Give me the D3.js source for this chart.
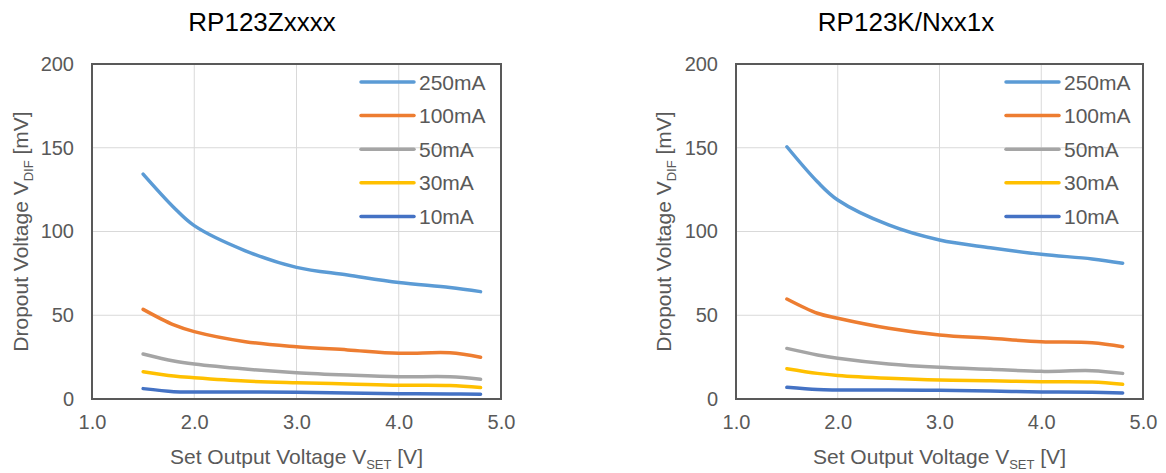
<!DOCTYPE html>
<html>
<head>
<meta charset="utf-8">
<script src="https://cdn.jsdelivr.net/npm/d3@7"></script>
<style>
  html, body { margin: 0; padding: 0; background: #fff; }
  svg { display: block; font-family: "Liberation Sans", Arial, sans-serif; }
</style>
</head>
<body>
<svg id="chart" width="1166" height="473"></svg>
<script>
// ── Data ──
const vset = [1.5, 1.8, 2.0, 2.5, 3.0, 3.5, 4.0, 4.5, 4.8];
const loads = ['250mA', '100mA', '50mA', '30mA', '10mA'];
const loadColors = ['#5b9bd5', '#ed7d31', '#a5a5a5', '#ffc000', '#4472c4'];
const xTicks = [1.0, 2.0, 3.0, 4.0, 5.0];
const yTicks = [0, 50, 100, 150, 200];

// RP123Zxxxx
const z250 = [134.3, 114.4, 103.5, 88.5, 78.6, 74.0, 69.5, 66.6, 64.1];
const z100 = [53.5, 44.2, 40.2, 34.2, 31.2, 29.3, 27.3, 27.6, 24.9];
const z50  = [26.9, 22.7, 20.9, 17.9, 15.7, 14.3, 13.3, 13.3, 11.8];
const z30  = [16.3, 13.7, 12.7, 10.7, 9.7, 9.0, 8.2, 8.0, 6.8];
const z10  = [6.2, 4.4, 4.2, 4.2, 4.0, 3.6, 3.2, 3.0, 2.8];

// RP123K/Nxx1x
const k250 = [150.6, 129.7, 118.8, 103.9, 94.9, 90.3, 86.4, 83.6, 81.0];
const k100 = [59.7, 51.2, 48.2, 42.2, 38.2, 36.2, 34.2, 33.6, 31.2];
const k50  = [30.2, 26.3, 24.3, 20.9, 18.9, 17.7, 16.5, 16.9, 15.3];
const k30  = [18.1, 15.3, 14.1, 12.4, 11.3, 10.9, 10.3, 10.1, 8.8];
const k10  = [7.0, 5.6, 5.4, 5.4, 5.2, 4.8, 4.2, 4.0, 3.6];

const svg = d3.select('#chart');
const textGrey = '#595959';

function drawChart(title, seriesList, box) {
  const x = d3.scaleLinear().domain([1, 5]).range([box.left, box.right]);
  const y = d3.scaleLinear().domain([0, 200]).range([box.bottom, box.top]);
  const g = svg.append('g');

  // Title
  g.append('text')
    .attr('x', box.titleX).attr('y', 31)
    .attr('text-anchor', 'middle')
    .attr('font-size', '26px').attr('fill', '#000')
    .text(title);

  // Gridlines
  g.append('g').selectAll('line').data(xTicks.slice(1, -1)).join('line')
    .attr('x1', d => x(d)).attr('x2', d => x(d))
    .attr('y1', box.top).attr('y2', box.bottom)
    .attr('stroke', '#d9d9d9').attr('stroke-width', 1);
  g.append('g').selectAll('line').data(yTicks.slice(1, -1)).join('line')
    .attr('x1', box.left).attr('x2', box.right)
    .attr('y1', d => y(d)).attr('y2', d => y(d))
    .attr('stroke', '#d9d9d9').attr('stroke-width', 1);

  // Axes (labels only, box drawn separately)
  const xAxis = g.append('g')
    .attr('transform', 'translate(0,' + box.bottom + ')')
    .call(d3.axisBottom(x).tickValues(xTicks).tickFormat(d3.format('.1f')).tickSize(0).tickPadding(16));
  const yAxis = g.append('g')
    .attr('transform', 'translate(' + box.left + ',0)')
    .call(d3.axisLeft(y).tickValues(yTicks).tickSize(0).tickPadding(18));
  [xAxis, yAxis].forEach(a => {
    a.select('.domain').remove();
    a.selectAll('text')
      .attr('fill', textGrey).attr('font-size', '20px')
      .attr('font-family', '"Liberation Sans", Arial, sans-serif');
  });

  // Curves
  const line = d3.line()
    .x((d, i) => x(vset[i]))
    .y(d => y(d))
    .curve(d3.curveCatmullRom.alpha(0.5));

  g.append('g').selectAll('path').data(seriesList).join('path')
    .attr('d', d => line(d))
    .attr('fill', 'none')
    .attr('stroke', (d, i) => loadColors[i])
    .attr('stroke-width', 3.5)
    .attr('stroke-linecap', 'round');

  // Plot border
  g.append('rect')
    .attr('x', box.left).attr('y', box.top)
    .attr('width', box.right - box.left).attr('height', box.bottom - box.top)
    .attr('fill', 'none').attr('stroke', '#595959').attr('stroke-width', 2);

  // Legend
  const leg = g.append('g').selectAll('g').data(loads).join('g')
    .attr('transform', (d, i) => 'translate(' + box.legendX + ',' + (82 + i * 33.6) + ')');
  leg.append('line')
    .attr('x1', 0).attr('x2', 53).attr('y1', 0).attr('y2', 0)
    .attr('stroke', (d, i) => loadColors[i]).attr('stroke-width', 3.5)
    .attr('stroke-linecap', 'round');
  leg.append('text')
    .attr('x', 58).attr('y', 0).attr('dy', '0.36em')
    .attr('font-size', '21px').attr('fill', textGrey)
    .text(d => d);

  // X axis title
  const xt = g.append('text')
    .attr('x', (box.left + box.right) / 2).attr('y', 464)
    .attr('text-anchor', 'middle')
    .attr('font-size', '21px').attr('fill', textGrey);
  xt.append('tspan').text('Set Output Voltage V');
  xt.append('tspan').attr('font-size', '13px').attr('dy', 5).text('SET');
  xt.append('tspan').attr('dy', -5).text(' [V]');

  // Y axis title
  const yt = g.append('text')
    .attr('transform', 'translate(' + box.yTitleX + ',' + ((box.top + box.bottom) / 2) + ') rotate(-90)')
    .attr('text-anchor', 'middle')
    .attr('font-size', '21px').attr('fill', textGrey);
  yt.append('tspan').text('Dropout Voltage V');
  yt.append('tspan').attr('font-size', '13px').attr('dy', 5).text('DIF');
  yt.append('tspan').attr('dy', -5).text(' [mV]');
}

drawChart('RP123Zxxxx', [z250, z100, z50, z30, z10],
  { left: 92, right: 501, top: 64, bottom: 399, titleX: 262, legendX: 361, yTitleX: 28 });
drawChart('RP123K/Nxx1x', [k250, k100, k50, k30, k10],
  { left: 736, right: 1143, top: 64, bottom: 399, titleX: 906, legendX: 1006, yTitleX: 671 });
</script>
</body>
</html>
